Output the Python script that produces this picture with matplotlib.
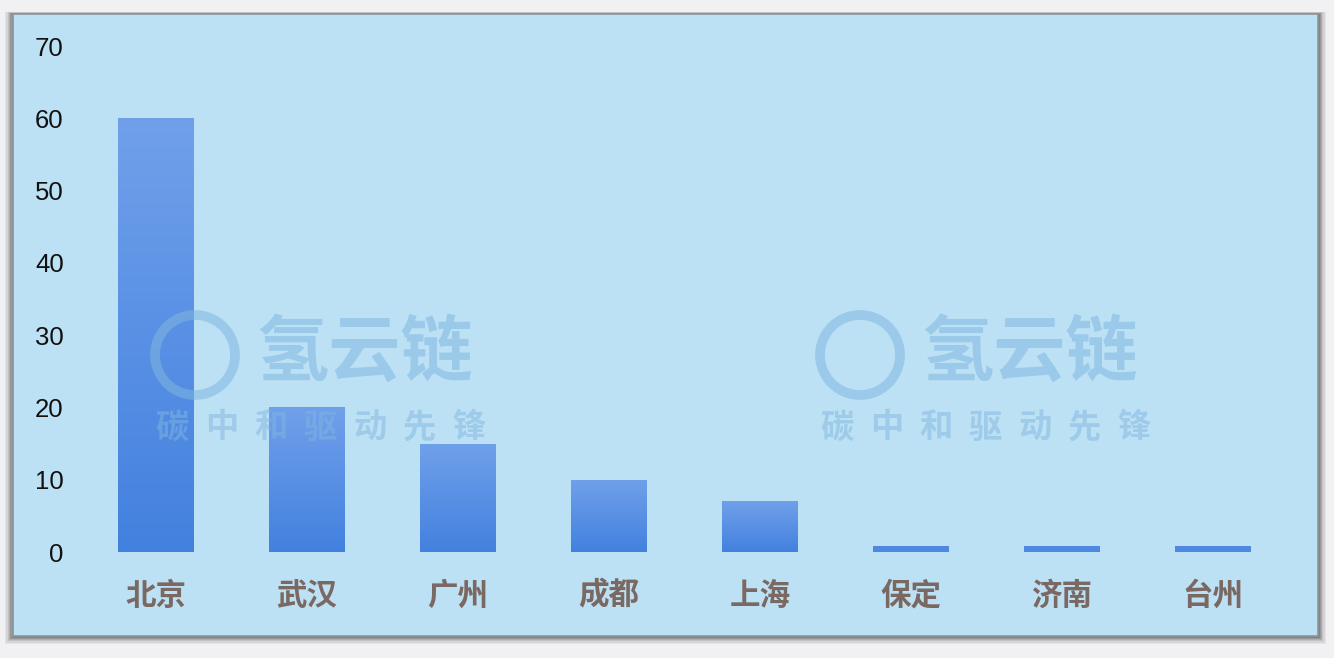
import matplotlib
matplotlib.use("Agg")
import matplotlib.pyplot as plt
import numpy as np
from matplotlib.patches import Rectangle, Ellipse
from matplotlib.colors import LinearSegmentedColormap

plt.rcParams['font.family'] = ['Noto Sans CJK SC', 'DejaVu Sans']

cities = ['北京', '武汉', '广州', '成都', '上海', '保定', '济南', '台州']
values = [60, 20, 15, 10, 7, 0.8, 0.8, 0.8]
yticks = [0, 10, 20, 30, 40, 50, 60, 70]

W, H = 1334, 658
fig = plt.figure(figsize=(W / 100, H / 100), dpi=100)
fig.patch.set_facecolor('#f1f1f3')

def fx(px):
    return px / W

def fy(py):
    return 1 - py / H

# shadow of the panel
for i, a in enumerate([0.08, 0.10, 0.14, 0.18, 0.24, 0.30]):
    off = 8 - i * 1.3
    fig.patches.append(Rectangle((fx(13 - off), fy(636 + off)),
                                 fx(1305 + 2 * off), (622 + off * 1.3) / H,
                                 transform=fig.transFigure, facecolor='#555555',
                                 edgecolor='none', alpha=a, zorder=0))
fig.patches.append(Rectangle((fx(13), fy(636)), fx(1305), 622 / H,
                             transform=fig.transFigure, facecolor='#bde1f4',
                             edgecolor='#8f9499', linewidth=1.2, zorder=1))

ax = fig.add_axes([fx(80.5), fy(552), fx(1208), 506 / H])
ax.set_facecolor('none')
ax.set_zorder(3)
for s in ax.spines.values():
    s.set_visible(False)

x = np.arange(len(cities))
bars = ax.bar(x, values, width=0.5, color='none', edgecolor='none')

grad = np.linspace(0, 1, 256).reshape(-1, 1)
cmap = LinearSegmentedColormap.from_list('g', ['#4381df', '#70a0ea'])
for b in bars:
    bx, by = b.get_x(), b.get_y()
    bw, bh = b.get_width(), b.get_height()
    if bh < 2:
        im = ax.imshow([[0.25]], cmap=cmap, vmin=0, vmax=1, aspect='auto',
                       extent=(bx, bx + bw, by, by + bh), origin='lower', zorder=2)
    else:
        im = ax.imshow(grad, cmap=cmap, aspect='auto',
                       extent=(bx, bx + bw, by, by + bh), origin='lower', zorder=2)
    im.set_clip_path(b)

ax.set_xlim(-0.5, len(cities) - 0.5)
ax.set_ylim(0, 70)
ax.set_yticks(yticks)
ax.set_yticklabels([str(v) for v in yticks], fontsize=18.5,
                   family=['Liberation Sans', 'DejaVu Sans'], color='#111111')
ax.set_xticks(x)
ax.set_xticklabels(cities, fontsize=22, color='#7a6862', fontweight='bold')
ax.tick_params(axis='y', length=0, pad=12)
ax.tick_params(axis='x', length=0, pad=20)

# faint watermark
wm_color = '#7fb6e0'
for dx in (0, 665):
    fig.patches.append(Ellipse((fx(195 + dx), fy(355)), 80 / W, 80 / H,
                               transform=fig.transFigure,
                               facecolor='none', edgecolor=wm_color, linewidth=7,
                               alpha=0.55, zorder=4))
    fig.text(fx(365 + dx), fy(353), '氢云链', fontsize=52, fontweight='bold',
             color=wm_color, alpha=0.55, ha='center', va='center', zorder=5)
    for i, ch in enumerate('碳中和驱动先锋'):
        fig.text(fx(172 + dx + i * 49.5), fy(428), ch, fontsize=24, fontweight='bold',
                 color=wm_color, alpha=0.5, ha='center', va='center', zorder=5)

fig.savefig('out.png', dpi=100, facecolor=fig.get_facecolor())
